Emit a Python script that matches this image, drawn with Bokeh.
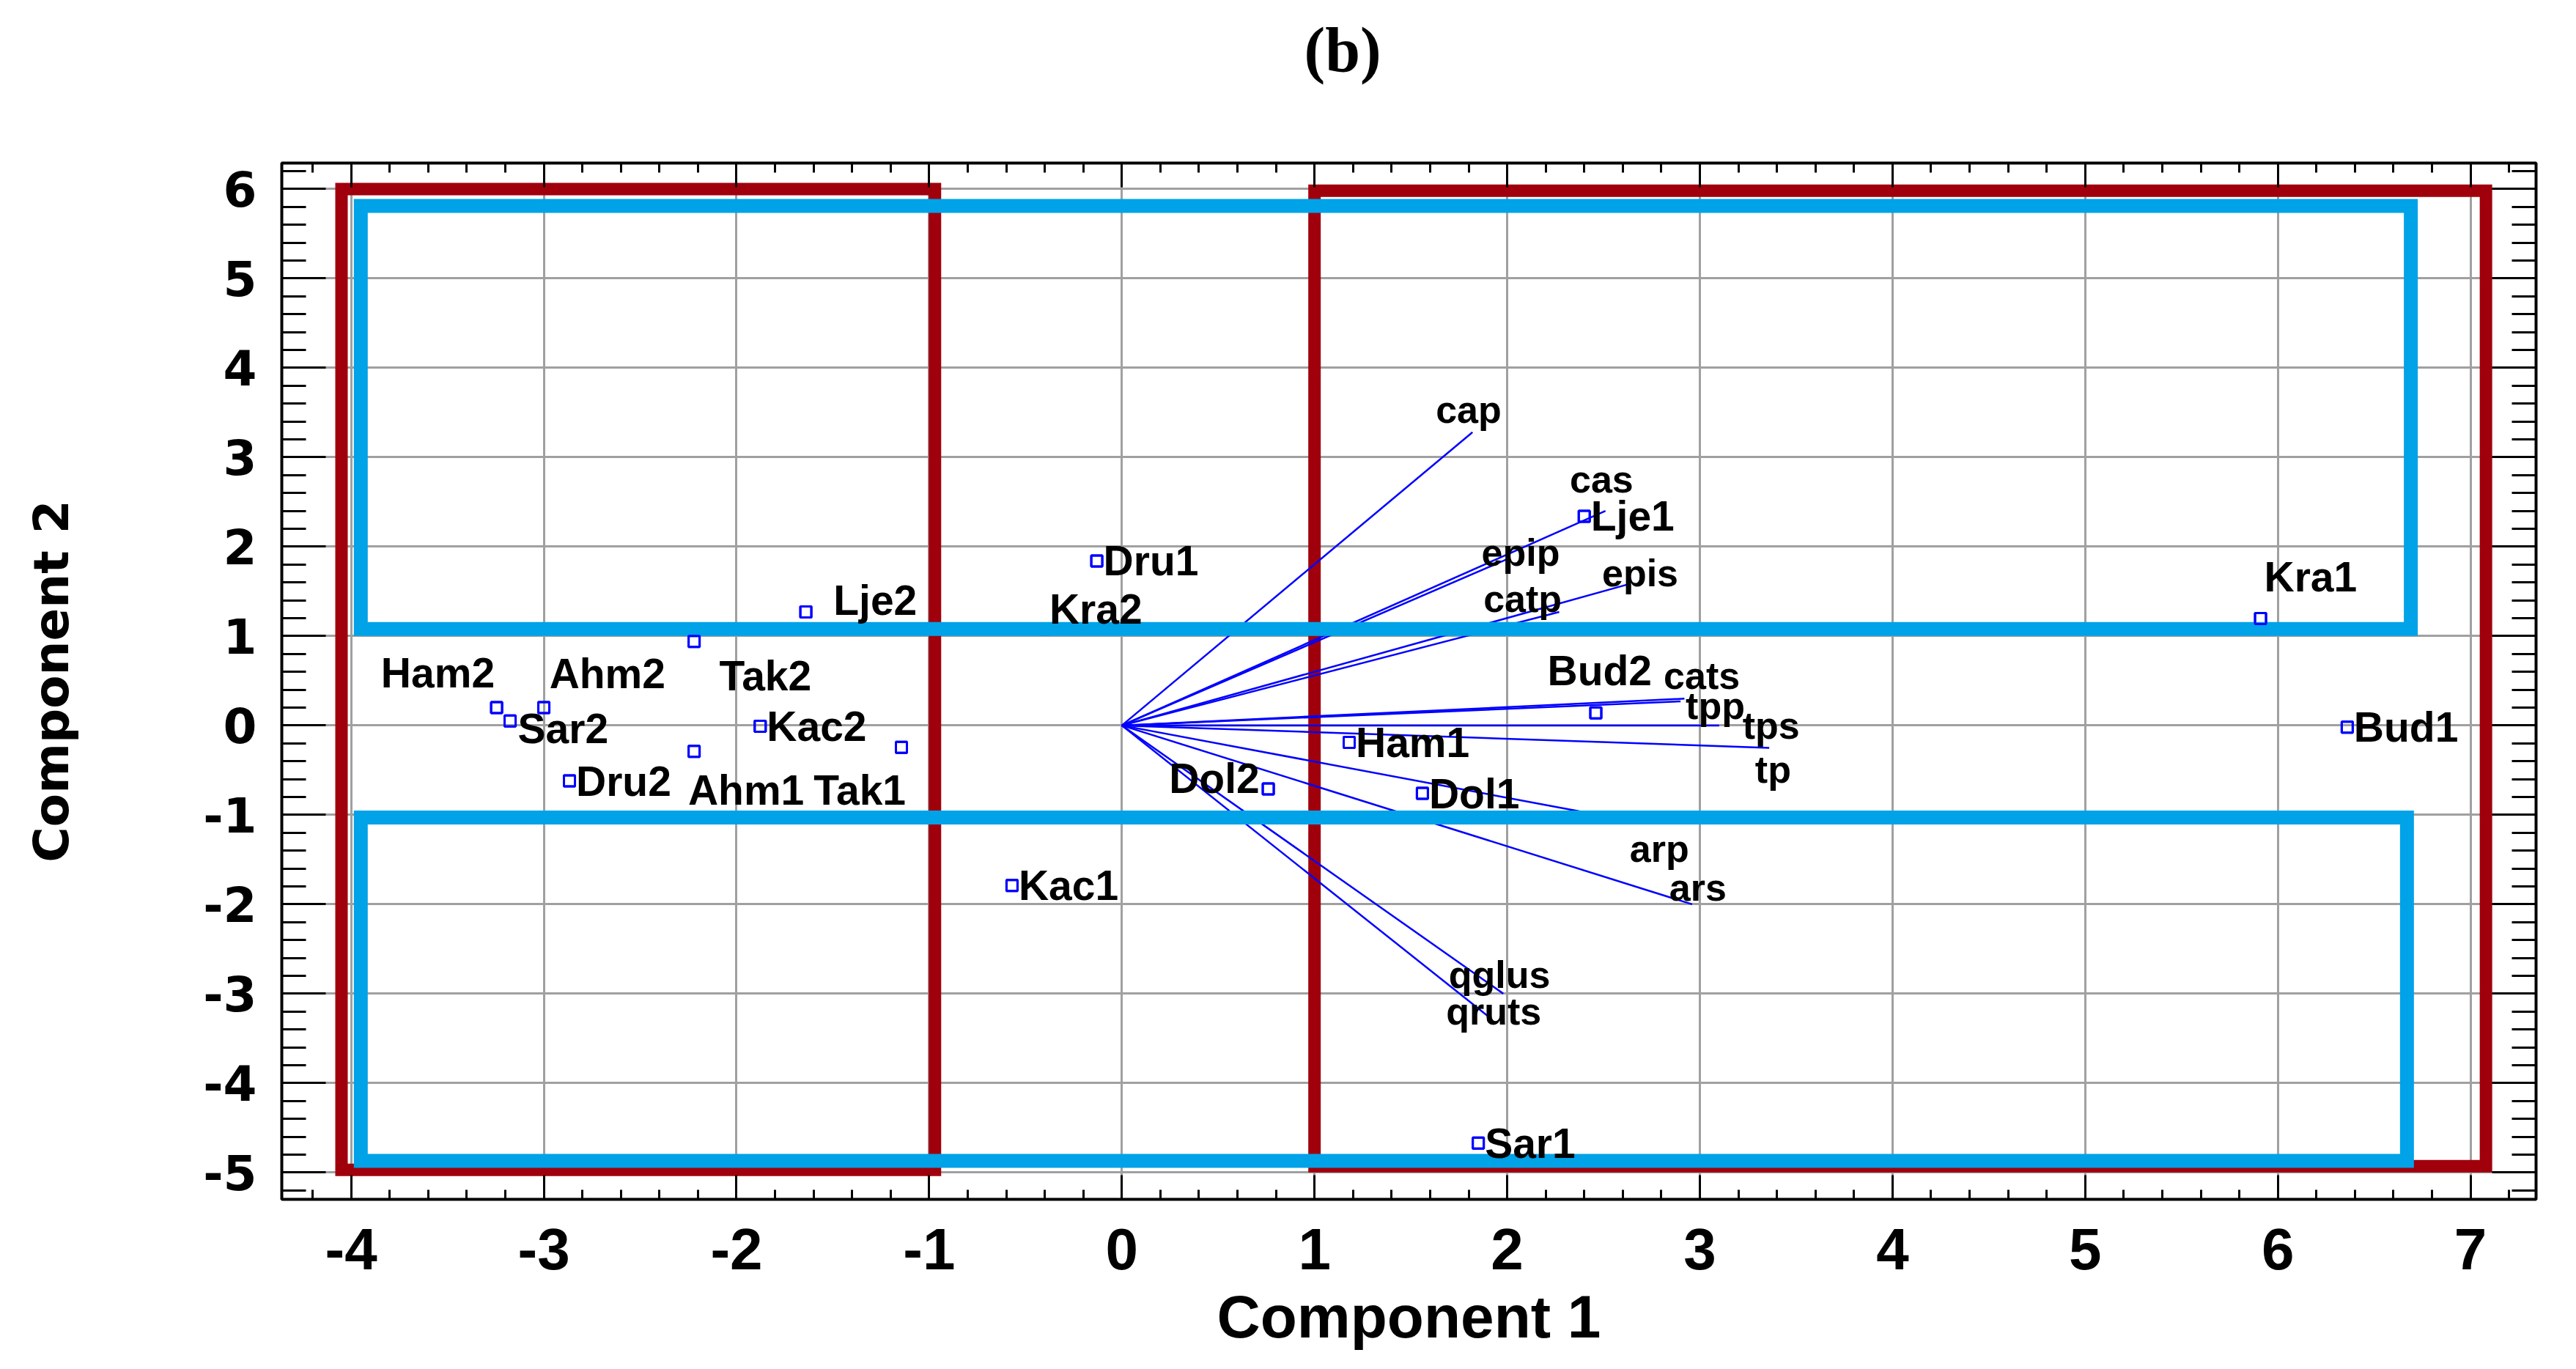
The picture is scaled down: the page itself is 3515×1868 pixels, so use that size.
from bokeh.plotting import figure
from bokeh.models import LinearAxis, SingleIntervalTicker, Range1d, ColumnDataSource, PrintfTickFormatter, Title
from bokeh.core.properties import value
from bokeh.embed import file_html
from bokeh.resources import INLINE

# ---------------- data ----------------
# sample scores (Component 1, Component 2)
samples = ["Lje2", "Dru1", "Kra2", "Ham2", "Sar2", "Ahm2", "Tak2", "Kac2", "Tak1", "Ahm1",
           "Dru2", "Kac1", "Dol2", "Ham1", "Dol1", "Bud2", "Lje1", "Kra1", "Bud1", "Sar1"]
score_x = [-1.64, -0.13, -0.40, -3.245, -3.175, -3.00, -2.22, -1.877, -1.144, -2.22,
           -2.867, -0.57, 0.76, 1.18, 1.56, 2.46, 2.40, 5.91, 6.36, 1.85]
score_y = [1.27, 1.84, 1.08, 0.20, 0.05, 0.20, 0.94, -0.01, -0.245, -0.29,
           -0.62, -1.79, -0.71, -0.19, -0.76, 0.14, 2.34, 1.195, -0.02, -4.67]

# labels placed just right of their point
right_labels = ["Dru1", "Kac2", "Dru2", "Kac1", "Ham1", "Dol1", "Lje1", "Bud1", "Sar1"]
# labels displaced from their point (label centre in data units)
free_labels = ["Lje2", "Kra2", "Ham2", "Sar2", "Ahm2", "Tak2", "Tak1", "Ahm1", "Dol2", "Bud2", "Kra1"]
free_label_x = [-1.28, -0.135, -3.55, -2.90, -2.67, -1.85, -1.36, -1.95, 0.48, 2.48, 6.17]
free_label_y = [1.40, 1.30, 0.59, -0.03, 0.58, 0.56, -0.72, -0.72, -0.59, 0.61, 1.66]

# variable loadings (biplot vectors)
variables = ["cap", "cas", "epip", "epis", "catp", "cats", "tpp", "tps", "tp", "arp", "ars", "qglus", "qruts"]
load_x = [1.82, 2.51, 2.00, 2.63, 2.27, 2.92, 2.90, 3.10, 3.36, 2.40, 2.96, 1.98, 1.90]
load_y = [3.28, 2.40, 1.86, 1.58, 1.27, 0.30, 0.27, 0.00, -0.25, -0.97, -2.00, -3.00, -3.25]
var_label_x = [1.80, 2.49, 2.07, 2.69, 2.08, 3.01, 3.08, 3.37, 3.38, 2.79, 2.99, 1.96, 1.93]
var_label_y = [3.53, 2.75, 1.93, 1.70, 1.42, 0.56, 0.22, 0.00, -0.49, -1.38, -1.81, -2.79, -3.20]

# grouping boxes
red_left = [-4.05, 1.00]
red_right = [-0.97, 7.08]
red_bottom = [-4.97, -4.93]
red_top = [6.00, 5.98]
blue_left = [-3.95, -3.95]
blue_right = [6.69, 6.67]
blue_bottom = [1.08, -4.87]
blue_top = [5.81, -1.03]

x_min, x_max = -4.36, 7.34
y_min, y_max = -5.30, 6.29

panel_title = "(b)"
x_title = "Component 1"
y_title = "Component 2"

# ---------------- figure ----------------
p = figure(width=3490, height=1852, title=None,
           x_range=Range1d(x_min, x_max), y_range=Range1d(y_min, y_max),
           output_backend="svg", toolbar_location=None,
           min_border_left=384, min_border_right=30, min_border_top=222, min_border_bottom=216,
           x_axis_label=x_title, y_axis_label=y_title)
p.background_fill_color = "white"
p.border_fill_color = "white"
p.outline_line_color = "black"
p.outline_line_width = 4

for ax in p.xaxis:
    ax.ticker = SingleIntervalTicker(interval=1, num_minor_ticks=5)
    ax.formatter = PrintfTickFormatter(format="%d")
    ax.major_label_text_font = "Liberation Sans"
    ax.major_label_text_font_style = "bold"
    ax.major_label_text_font_size = "80px"
    ax.major_label_text_color = "black"
    ax.major_label_standoff = 40
    ax.axis_label_text_font = "Liberation Sans"
    ax.axis_label_text_font_style = "bold"
    ax.axis_label_text_font_size = "82px"
    ax.axis_label_text_color = "black"
    ax.axis_label_standoff = 16
    ax.major_tick_in = 33
    ax.major_tick_out = 0
    ax.minor_tick_in = 13
    ax.minor_tick_out = 0
    ax.major_tick_line_width = 3
    ax.minor_tick_line_width = 3
    ax.axis_line_width = 3

for ax in p.yaxis:
    ax.ticker = SingleIntervalTicker(interval=1, num_minor_ticks=5)
    ax.formatter = PrintfTickFormatter(format="%d")
    ax.major_label_text_font = "DejaVu Sans"
    ax.major_label_text_font_style = "bold"
    ax.major_label_text_font_size = "66px"
    ax.major_label_text_color = "black"
    ax.major_label_standoff = 34
    ax.axis_label_text_font = "DejaVu Sans"
    ax.axis_label_text_font_style = "bold"
    ax.axis_label_text_font_size = "66px"
    ax.axis_label_text_color = "black"
    ax.axis_label_standoff = 165
    ax.major_tick_in = 60
    ax.major_tick_out = 0
    ax.minor_tick_in = 33
    ax.minor_tick_out = 0
    ax.major_tick_line_width = 3
    ax.minor_tick_line_width = 3
    ax.axis_line_width = 3

# ticks-only axes on top and right
top_ax = LinearAxis(ticker=SingleIntervalTicker(interval=1, num_minor_ticks=5),
                    major_label_text_font_size="1px", major_label_text_alpha=0,
                    major_label_standoff=0, major_tick_in=33, major_tick_out=0,
                    minor_tick_in=13, minor_tick_out=0, major_tick_line_width=3,
                    minor_tick_line_width=3, axis_line_width=3)
right_ax = LinearAxis(ticker=SingleIntervalTicker(interval=1, num_minor_ticks=5),
                      major_label_text_font_size="1px", major_label_text_alpha=0,
                      major_label_standoff=0, major_tick_in=60, major_tick_out=0,
                      minor_tick_in=33, minor_tick_out=0, major_tick_line_width=3,
                      minor_tick_line_width=3, axis_line_width=3)
p.add_layout(top_ax, "above")
p.add_layout(right_ax, "right")

# spacer between the top axis and the panel title, then the "(b)" title
spacer = Title(text=" ", text_font_size="1px", standoff=99)
p.add_layout(spacer, "above")
title_b = Title(text=panel_title, align="left", offset=1395, standoff=10,
                text_font="Liberation Serif", text_font_style="bold",
                text_font_size="86px", text_color="black")
p.add_layout(title_b, "above")

p.xgrid.ticker = SingleIntervalTicker(interval=1)
p.ygrid.ticker = SingleIntervalTicker(interval=1)
for g in (p.xgrid, p.ygrid):
    g.grid_line_color = "#A0A0A0"
    g.grid_line_width = 3

# red boxes
p.quad(left=red_left, right=red_right, bottom=red_bottom, top=red_top,
       fill_alpha=0, line_color="#A0000C", line_width=17, line_join="miter")

# points (Kra2 sits under the blue box edge)
pts = ColumnDataSource(dict(x=score_x, y=score_y, name=samples))
p.scatter(x="x", y="y", source=pts, marker="square", size=15,
          fill_alpha=0, line_color="#0000FF", line_width=3)

# biplot vectors
p.segment(x0=[0] * len(variables), y0=[0] * len(variables), x1=load_x, y1=load_y,
          line_color="#0000FF", line_width=2.5)

# blue boxes
p.quad(left=blue_left, right=blue_right, bottom=blue_bottom, top=blue_top,
       fill_alpha=0, line_color="#00A2E8", line_width=19, line_join="miter")

# redraw visible points above boxes
vis = [i for i, s in enumerate(samples) if s != "Kra2"]
p.scatter(x=[score_x[i] for i in vis], y=[score_y[i] for i in vis], marker="square", size=15,
          fill_alpha=0, line_color="#0000FF", line_width=3)

# sample labels
idx = {s: i for i, s in enumerate(samples)}
p.text(x=[score_x[idx[s]] for s in right_labels], y=[score_y[idx[s]] for s in right_labels],
       text=right_labels, x_offset=9, text_align="left", text_baseline="middle",
       text_font=value("Liberation Sans"), text_font_style="bold", text_font_size="57px",
       text_color="black")
p.text(x=free_label_x, y=free_label_y, text=free_labels,
       text_align="center", text_baseline="middle",
       text_font=value("Liberation Sans"), text_font_style="bold", text_font_size="57px",
       text_color="black")

# variable labels
p.text(x=var_label_x, y=var_label_y, text=variables,
       text_align="center", text_baseline="middle",
       text_font=value("Liberation Sans"), text_font_style="bold", text_font_size="52px",
       text_color="black")

open("out.html", "w").write(file_html(p, INLINE))
